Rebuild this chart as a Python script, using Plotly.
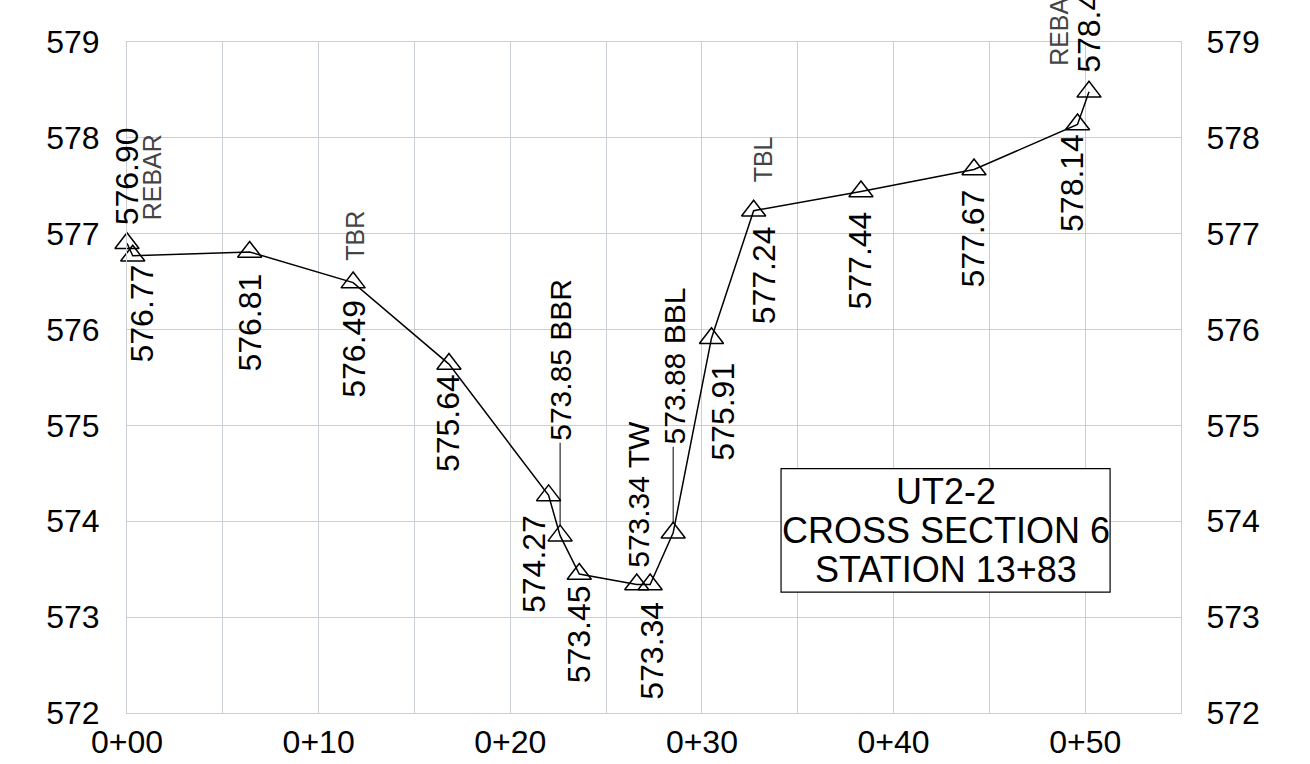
import plotly.graph_objects as go

# Surveyed cross-section points (station in ft from 0+00, elevation in ft)
stations = [0.0, 0.3, 6.4, 11.8, 16.8, 22.0, 22.6, 23.6, 26.6, 27.3, 28.5, 30.5, 32.7, 38.3, 44.2, 49.6, 50.2]
elevations = [576.90, 576.77, 576.81, 576.49, 575.64, 574.27, 573.85, 573.45, 573.34, 573.34,
              573.88, 575.91, 577.24, 577.44, 577.67, 578.14, 578.48]
point_codes = ["REBAR", "", "", "TBR", "", "", "BBR", "", "TW", "", "BBL", "", "TBL", "", "", "", "REBAR"]

x_tick_values = [0, 10, 20, 30, 40, 50]
x_tick_labels = ["0+00", "0+10", "0+20", "0+30", "0+40", "0+50"]
y_ticks = [572, 573, 574, 575, 576, 577, 578, 579]

title_lines = ["UT2-2", "CROSS SECTION 6", "STATION 13+83"]

# Label layout: (side, x shift px, y shift px, code mode, code x shift, code y shift, leader)
label_layout = [
    ("above", 0, 16, "side", 25, 21, False),
    ("below", 9, -7, None, 0, 0, False),
    ("below", 0, -20, None, 0, 0, False),
    ("below", 0, -15, "side", 1, 20, False),
    ("below", -1, -8, None, 0, 0, False),
    ("below", -14, -18, None, 0, 0, False),
    ("above", 1, 93, "inline", 0, 0, True),
    ("below", 0, -9, None, 0, 0, False),
    ("above", 1, 15, "inline", 0, 0, False),
    ("below", 1, -15, None, 0, 0, False),
    ("above", 1, 86, "inline", 0, 0, True),
    ("below", 12, -22, None, 0, 0, False),
    ("below", 10, -14, "side", 9, 26, False),
    ("below", -1, -18, None, 0, 0, False),
    ("below", -1, -18, None, 0, 0, False),
    ("below", -5, -8, None, 0, 0, False),
    ("above", 0, 17, "side", -30, 24, False),
]

FONT = "Liberation Sans, Arial, sans-serif"
VALUE_SIZE = 32
INLINE_SIZE = 30
CODE_SIZE = 25
CODE_COLOR = "#444444"
GRID = "#c9cfd2"

fig = go.Figure()

fig.add_trace(go.Scatter(
    x=stations, y=elevations, mode="lines+markers",
    line=dict(color="black", width=1.5),
    marker=dict(symbol="triangle-up-open", size=21, color="black", line=dict(width=1.5, color="black")),
    cliponaxis=False, showlegend=False, hoverinfo="x+y",
))
# Invisible copy so the right-hand elevation axis is drawn
fig.add_trace(go.Scatter(
    x=stations, y=elevations, yaxis="y2", mode="lines",
    line=dict(width=0), opacity=0, showlegend=False, hoverinfo="skip",
))

annotations = []
shapes = []
for st, el, code, lay in zip(stations, elevations, point_codes, label_layout):
    side, dx, dy, code_mode, cdx, cdy, leader = lay
    text = f"{el:.2f}"
    size = VALUE_SIZE
    if code_mode == "inline":
        text += f" {code}"
        size = INLINE_SIZE
    annotations.append(dict(
        x=st, y=el, xref="x", yref="y", text=text, showarrow=False, textangle=-90,
        xanchor="center", yanchor="bottom" if side == "above" else "top",
        xshift=dx, yshift=dy, font=dict(family=FONT, size=size, color="black"),
    ))
    if code_mode == "side":
        annotations.append(dict(
            x=st, y=el, xref="x", yref="y", text=code, showarrow=False, textangle=-90,
            xanchor="center", yanchor="bottom", xshift=cdx, yshift=cdy,
            font=dict(family=FONT, size=CODE_SIZE, color=CODE_COLOR),
        ))
    if leader:
        shapes.append(dict(
            type="line", xref="x", yref="y", x0=st, x1=st,
            ysizemode="pixel", yanchor=el, y0=10, y1=dy,
            line=dict(color="black", width=1),
        ))

# Title block
shapes.append(dict(type="rect", xref="x", yref="y", x0=34.13, x1=51.3, y0=573.26, y1=574.55,
                   line=dict(color="black", width=1.2), fillcolor="white", layer="above"))
for line_text, y_pos in zip(title_lines, [574.31, 573.905, 573.50]):
    annotations.append(dict(
        x=42.72, y=y_pos, xref="x", yref="y", text=line_text, showarrow=False,
        xanchor="center", yanchor="middle", font=dict(family=FONT, size=36, color="black"),
    ))

x_grid_vals = list(range(0, 56, 5))
x_grid_text = [x_tick_labels[x_tick_values.index(v)] if v in x_tick_values else "" for v in x_grid_vals]

axis_font = dict(family=FONT, size=32, color="black")
fig.update_layout(
    width=1310, height=764,
    margin=dict(l=127, r=129, t=42, b=51, autoexpand=False),
    paper_bgcolor="white", plot_bgcolor="white",
    font=dict(family=FONT),
    xaxis=dict(range=[0, 55], tickvals=x_grid_vals, ticktext=x_grid_text, showgrid=True,
               gridcolor=GRID, gridwidth=1, zeroline=False, showline=True, mirror=True,
               linecolor=GRID, linewidth=1, ticks="outside", ticklen=1, automargin=False,
               tickcolor="rgba(0,0,0,0)", tickfont=axis_font),
    yaxis=dict(range=[572, 579], tickvals=y_ticks, showgrid=True, gridcolor=GRID, gridwidth=1,
               zeroline=False, showline=True, mirror=True, linecolor=GRID, linewidth=1,
               ticks="outside", ticklen=20, tickcolor="rgba(0,0,0,0)", tickfont=axis_font,
               automargin=False),
    yaxis2=dict(range=[572, 579], tickvals=y_ticks, overlaying="y", side="right", showgrid=False,
                zeroline=False, ticks="outside", ticklen=18, tickcolor="rgba(0,0,0,0)",
                tickfont=axis_font, automargin=False),
    annotations=annotations,
    shapes=shapes,
)

fig.write_html("out.html")
